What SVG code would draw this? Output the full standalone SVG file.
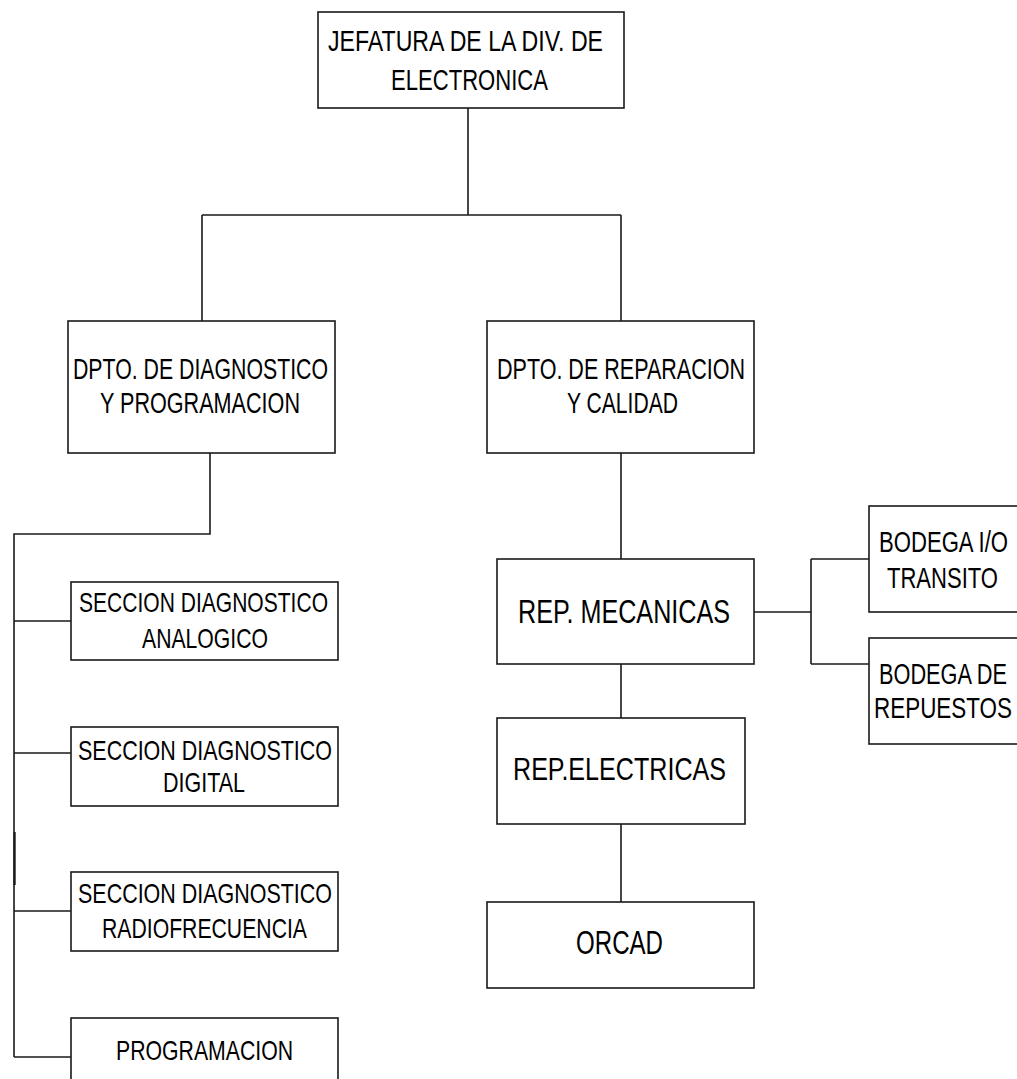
<svg xmlns="http://www.w3.org/2000/svg" width="1017" height="1079" viewBox="0 0 1017 1079">
<style>
.box{fill:#fff;stroke:#1a1a1a;stroke-width:1.6}
.ln{fill:none;stroke:#1a1a1a;stroke-width:1.6}
text{font-family:"Liberation Sans",Arial,sans-serif;fill:#000;text-anchor:middle}
.f30{font-size:30px}.f29{font-size:29px}.f28{font-size:28px}.f34{font-size:34px}.f32{font-size:32px}
</style>
<rect width="1017" height="1079" fill="#fff"/>
<g id="connectors">
<path class="ln" d="M468,108 V215 M202,215 H621 M202,215 V321 M621,215 V321"/>
<path class="ln" d="M210,453 V534 H14 V1057 M14,621 H71 M14,753 H71 M14,911 H71 M14,1057 H71"/>
<path class="ln" d="M14.6,832 V885" style="stroke-width:2.2"/>
<path class="ln" d="M621,453 V559 M621,664 V718 M621,824 V902"/>
<path class="ln" d="M754,612 H811 M811,559 V664 M811,559 H869 M811,664 H869"/>
</g>
<g id="jefatura"><rect class="box" x="318" y="12" width="306" height="96"/>
<text class="f30" x="465.5" y="51" textLength="275" lengthAdjust="spacingAndGlyphs">JEFATURA DE LA DIV. DE</text>
<text class="f30" x="469.5" y="90" textLength="157" lengthAdjust="spacingAndGlyphs">ELECTRONICA</text></g>
<g id="dpto-diagnostico"><rect class="box" x="68" y="321" width="267" height="132"/>
<text class="f29" x="200.5" y="379" textLength="255" lengthAdjust="spacingAndGlyphs">DPTO. DE DIAGNOSTICO</text>
<text class="f29" x="200" y="413" textLength="200" lengthAdjust="spacingAndGlyphs">Y PROGRAMACION</text></g>
<g id="dpto-reparacion"><rect class="box" x="487" y="321" width="267" height="132"/>
<text class="f29" x="621" y="379" textLength="248" lengthAdjust="spacingAndGlyphs">DPTO. DE REPARACION</text>
<text class="f29" x="622.5" y="413" textLength="111" lengthAdjust="spacingAndGlyphs">Y CALIDAD</text></g>
<g id="rep-mecanicas"><rect class="box" x="497" y="559" width="257" height="105"/>
<text class="f34" x="624" y="623" textLength="212" lengthAdjust="spacingAndGlyphs">REP. MECANICAS</text></g>
<g id="bodega-transito"><rect class="box" x="869" y="506" width="150" height="106"/>
<text class="f29" x="943.5" y="552" textLength="129" lengthAdjust="spacingAndGlyphs">BODEGA I/O</text>
<text class="f29" x="942.5" y="588" textLength="111" lengthAdjust="spacingAndGlyphs">TRANSITO</text></g>
<g id="bodega-repuestos"><rect class="box" x="869" y="638" width="150" height="106"/>
<text class="f29" x="943" y="684" textLength="128" lengthAdjust="spacingAndGlyphs">BODEGA DE</text>
<text class="f29" x="943" y="718" textLength="138" lengthAdjust="spacingAndGlyphs">REPUESTOS</text></g>
<g id="rep-electricas"><rect class="box" x="497" y="718" width="248" height="106"/>
<text class="f32" x="619.5" y="780" textLength="213" lengthAdjust="spacingAndGlyphs">REP.ELECTRICAS</text></g>
<g id="orcad"><rect class="box" x="487" y="902" width="267" height="86"/>
<text class="f34" x="619.5" y="954" textLength="87" lengthAdjust="spacingAndGlyphs">ORCAD</text></g>
<g id="seccion-analogico"><rect class="box" x="71" y="582" width="267" height="78"/>
<text class="f28" x="203.5" y="612" textLength="249" lengthAdjust="spacingAndGlyphs">SECCION DIAGNOSTICO</text>
<text class="f28" x="205" y="648" textLength="126" lengthAdjust="spacingAndGlyphs">ANALOGICO</text></g>
<g id="seccion-digital"><rect class="box" x="71" y="727" width="267" height="79"/>
<text class="f28" x="205" y="760" textLength="254" lengthAdjust="spacingAndGlyphs">SECCION DIAGNOSTICO</text>
<text class="f28" x="204" y="792" textLength="82" lengthAdjust="spacingAndGlyphs">DIGITAL</text></g>
<g id="seccion-radiofrecuencia"><rect class="box" x="71" y="872" width="267" height="79"/>
<text class="f28" x="205" y="903" textLength="254" lengthAdjust="spacingAndGlyphs">SECCION DIAGNOSTICO</text>
<text class="f28" x="204.5" y="938" textLength="205" lengthAdjust="spacingAndGlyphs">RADIOFRECUENCIA</text></g>
<g id="programacion"><rect class="box" x="71" y="1018" width="267" height="80"/>
<text class="f28" x="204.5" y="1060" textLength="177" lengthAdjust="spacingAndGlyphs">PROGRAMACION</text></g>
</svg>
